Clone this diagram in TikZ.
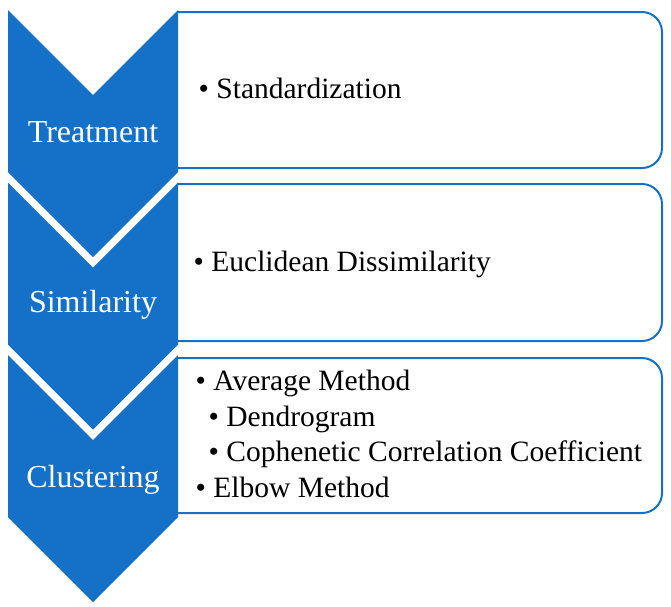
\documentclass[tikz,border=0pt]{standalone}
\usepackage{fontspec}
\setmainfont{Liberation Serif}
\definecolor{chevblue}{RGB}{21,112,200}
\tikzset{
  chev/.style={fill=chevblue, draw=none},
  boxline/.style={draw=chevblue, line width=2pt, rounded corners=20pt},
  chevlabel/.style={text=white, anchor=base, inner sep=0pt, font=\fontsize{32}{38}\selectfont},
  item/.style={text=black, anchor=base west, inner sep=0pt, font=\fontsize{29.5}{35}\selectfont}
}
\begin{document}
\begin{tikzpicture}[x=1pt,y=-1pt]
\useasboundingbox (0,0) rectangle (671,606);
% boxes
\draw[boxline] (177,12) -- (662,12) -- (662,168) -- (177,168);
\draw[boxline] (177,184) -- (662,184) -- (662,341) -- (177,341);
\draw[boxline] (177,358) -- (662,358) -- (662,513) -- (177,513);
% chevrons
\foreach \T in {10,182.5,355}{
  \fill[chev] (8,\T) -- (93,\T+85) -- (178,\T) -- (178,\T+162) -- (93,\T+247) -- (8,\T+162) -- cycle;
}
% labels
\node[chevlabel] (treat) at (93,142) {Treatment};
\node[chevlabel] (simil) at (93,312) {Similarity};
\node[chevlabel] (clust) at (93,487) {Clustering};
% items
\node[item] (stand) at (198.5,98) {\textbullet{} Standardization};
\node[item] (eucl) at (193.5,271) {\textbullet{} Euclidean Dissimilarity};
\node[item] (avg) at (195.5,390) {\textbullet{} Average Method};
\node[item] (dend) at (208.5,426) {\textbullet{} Dendrogram};
\node[item] (coph) at (208.5,461) {\textbullet{} Cophenetic Correlation Coefficient};
\node[item] (elbow) at (195.5,497) {\textbullet{} Elbow Method};
\end{tikzpicture}
\end{document}
